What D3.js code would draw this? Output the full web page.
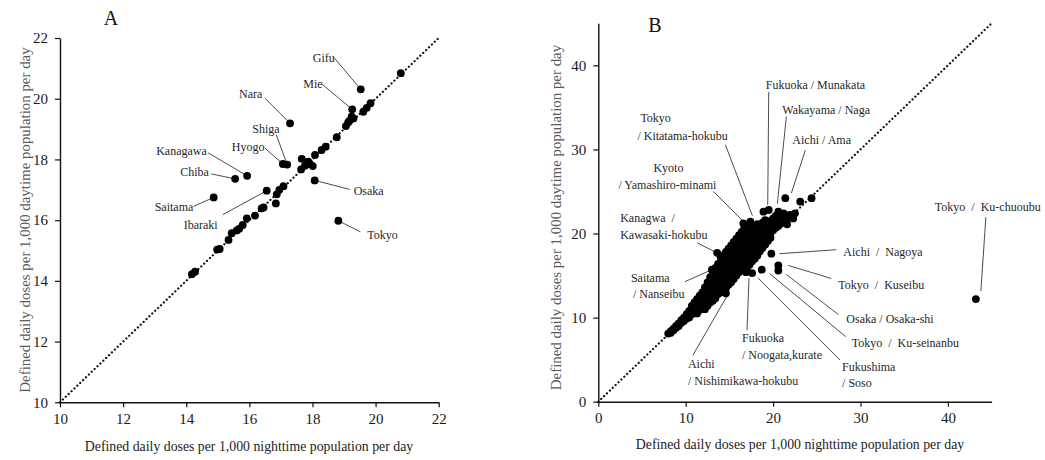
<!DOCTYPE html>
<html>
<head>
<meta charset="utf-8">
<script src="https://cdn.jsdelivr.net/npm/d3@7"></script>
<style>
  body { margin: 0; background: #fff; }
  svg { display: block; font-family: "Liberation Serif", "Times New Roman", serif; }
  .lbl { white-space: pre; }
</style>
</head>
<body>
<svg id="chart" width="1045" height="460"></svg>
<script>
// ---------- Panel A: prefectures ----------
const prefNamesA   = ["Gifu", "Mie", "Nara", "Shiga", "Hyogo", "Kanagawa", "Chiba", "Saitama", "Ibaraki", "Osaka", "Tokyo"];
const prefNightA   = [19.53, 19.26, 17.29, 17.20, 17.06, 15.93, 15.55, 14.87, 16.55, 18.07, 18.82];
const prefDayA     = [20.31, 19.65, 19.19, 17.83, 17.85, 17.46, 17.36, 16.75, 16.97, 17.31, 15.98];
const otherNightA  = [20.80, 19.84, 19.72, 19.61, 19.24, 19.13, 19.06, 18.77, 18.42, 18.29, 18.08, 17.66,
                      17.87, 18.01, 17.76, 17.64, 17.08, 16.95, 16.87, 16.84, 16.39, 16.18, 15.92, 15.79,
                      15.60, 15.44, 15.34, 15.06, 14.98, 14.28, 14.18, 15.68, 17.92, 19.30, 19.18, 16.45];
const otherDayA    = [20.84, 19.85, 19.70, 19.57, 19.41, 19.22, 19.10, 18.73, 18.42, 18.31, 18.15, 18.02,
                      17.93, 17.78, 17.79, 17.67, 17.12, 17.00, 16.85, 16.55, 16.39, 16.15, 16.06, 15.84,
                      15.66, 15.57, 15.35, 15.05, 15.03, 14.30, 14.22, 15.72, 17.85, 19.35, 19.28, 16.42];
const ticksA = [10, 12, 14, 16, 18, 20, 22];

// ---------- Panel B: secondary medical areas ----------
const areaNamesB = ["Fukuoka / Munakata", "Wakayama / Naga", "Aichi / Ama", "Tokyo / Kitatama-hokubu",
                    "Kyoto / Yamashiro-minami", "Kanagwa / Kawasaki-hokubu", "Saitama / Nanseibu",
                    "Aichi / Nishimikawa-hokubu", "Fukuoka / Noogata,kurate", "Fukushima / Soso",
                    "Tokyo / Ku-seinanbu", "Osaka / Osaka-shi", "Tokyo / Kuseibu", "Aichi / Nagoya",
                    "Tokyo / Ku-chuoubu"];
const areaNightB = [19.5, 20.6, 21.4, 17.4, 16.6, 13.6, 13.0, 14.6, 16.9, 17.6, 18.7, 20.6, 20.6, 19.8, 43.2];
const areaDayB   = [22.8, 22.6, 24.2, 21.4, 21.2, 17.7, 15.7, 12.9, 15.4, 15.3, 15.7, 15.6, 16.2, 17.6, 12.2];
// remaining areas as [nighttime, daytime]
const otherAreasB = [
  [8.0,8.1],[8.3,8.4],[8.3,8.2],[8.6,8.7],[8.6,8.5],[8.9,9.0],[8.9,8.8],[9.2,9.3],[9.2,9.0],[9.5,9.7],
  [9.5,9.4],[9.8,10.0],[9.8,9.6],[10.1,10.4],[10.1,9.9],[10.4,10.8],[10.4,10.3],[10.4,10.0],[10.7,11.4],
  [10.7,10.9],[10.7,10.4],[11.0,11.8],[11.0,11.2],[11.0,10.6],[11.3,12.2],[11.3,11.6],[11.3,11.0],[11.3,10.5],
  [11.6,12.6],[11.6,12.0],[11.6,11.4],[11.6,10.9],[11.9,13.0],[11.9,12.4],[11.9,11.8],[11.9,11.2],
  [12.2,13.6],[12.2,13.0],[12.2,12.3],[12.2,11.6],[12.2,11.0],[12.5,14.2],[12.5,13.5],[12.5,12.8],[12.5,12.1],
  [12.5,11.4],[12.8,14.8],[12.8,14.0],[12.8,13.3],[12.8,12.6],[12.8,11.8],[13.1,15.5],[13.1,14.8],[13.1,14.1],
  [13.1,13.4],[13.1,12.6],[13.1,12.0],[13.4,15.9],[13.4,15.2],[13.4,14.5],[13.4,13.8],[13.4,13.0],[13.4,12.3],
  [13.7,16.4],[13.7,15.8],[13.7,15.1],[13.7,14.4],[13.7,13.6],[13.7,12.8],[14.0,17.2],[14.0,16.6],[14.0,15.9],
  [14.0,15.2],[14.0,14.5],[14.0,13.7],[14.0,13.0],[14.3,17.4],[14.3,16.8],[14.3,16.1],[14.3,15.4],[14.3,14.7],
  [14.3,13.9],[14.3,13.2],[14.6,17.8],[14.6,17.1],[14.6,16.4],[14.6,15.7],[14.6,15.0],[14.6,14.2],[14.6,13.5],
  [14.9,18.2],[14.9,17.5],[14.9,16.8],[14.9,16.1],[14.9,15.4],[14.9,14.6],[14.9,13.9],[15.2,18.6],[15.2,17.9],
  [15.2,17.2],[15.2,16.5],[15.2,15.8],[15.2,15.0],[15.2,14.2],[15.5,19.0],[15.5,18.3],[15.5,17.6],[15.5,16.9],
  [15.5,16.2],[15.5,15.4],[15.5,14.6],[15.8,19.4],[15.8,18.7],[15.8,18.0],[15.8,17.3],[15.8,16.6],[15.8,15.8],
  [15.8,15.0],[16.1,19.8],[16.1,19.1],[16.1,18.4],[16.1,17.7],[16.1,17.0],[16.1,16.2],[16.1,15.4],[16.4,20.2],
  [16.4,19.5],[16.4,18.8],[16.4,18.1],[16.4,17.3],[16.4,16.6],[16.4,15.8],[16.7,20.6],[16.7,19.9],[16.7,19.2],
  [16.7,18.5],[16.7,17.7],[16.7,17.0],[16.7,16.2],[17.0,20.4],[17.0,19.6],[17.0,18.9],[17.0,18.1],[17.0,17.4],
  [17.0,16.6],[17.0,15.9],[17.3,20.8],[17.3,20.0],[17.3,19.3],[17.3,18.5],[17.3,17.8],[17.3,17.0],[17.3,16.3],
  [17.6,20.4],[17.6,19.7],[17.6,18.9],[17.6,18.2],[17.6,17.4],[17.6,16.7],[17.9,20.8],[17.9,20.1],[17.9,19.3],
  [17.9,18.6],[17.9,17.8],[17.9,17.0],[18.2,21.1],[18.2,20.4],[18.2,19.7],[18.2,18.9],[18.2,18.2],[18.2,17.4],
  [18.5,21.0],[18.5,20.2],[18.5,19.5],[18.5,18.7],[18.5,17.9],[18.8,21.3],[18.8,20.6],[18.8,19.8],[18.8,19.1],
  [18.8,18.3],[19.1,21.6],[19.1,20.9],[19.1,20.2],[19.1,19.4],[19.1,18.7],[19.4,21.2],[19.4,20.5],[19.4,19.8],
  [19.4,19.1],[19.7,21.5],[19.7,20.8],[19.7,20.1],[19.7,19.5],[20.0,21.8],[20.0,21.1],[20.0,20.4],[20.3,22.1],
  [20.3,21.4],[20.3,20.7],[20.6,21.6],[20.6,20.9],[20.9,21.9],[20.9,21.2],[21.2,22.4],[21.2,21.5],[21.6,21.8],
  [21.6,21.1],[21.9,22.2],[22.3,21.8],[22.5,22.4],[23.1,23.8],[24.4,24.2],[18.9,22.6],[18.2,20.8]
];
const ticksB = [0, 10, 20, 30, 40];

// ---------- Annotation layout (pixel offsets from each labelled point) ----------
// lines: [text, dx, dy]; leader: [x1, y1, x2, y2]
const layoutA = {
  "Gifu":     { lines: [["Gifu", -48, -31]],     leader: [-27, -32, 0, 0] },
  "Mie":      { lines: [["Mie", -49, -25]],      leader: [-30, -25, 0, 0] },
  "Nara":     { lines: [["Nara", -51, -29]],     leader: [-25, -25, 0, 0] },
  "Shiga":    { lines: [["Shiga", -35, -36]],    leader: [-11, -30, 0, 0] },
  "Hyogo":    { lines: [["Hyogo", -51, -17]],    leader: [-18, -16, 0, 0] },
  "Kanagawa": { lines: [["Kanagawa", -91, -25]], leader: [-39, -23, 0, 0] },
  "Chiba":    { lines: [["Chiba", -55, -7]],     leader: [-24, -5, 0, 0] },
  "Saitama":  { lines: [["Saitama", -59, 10]],   leader: [-20, 9, 0, 0] },
  "Ibaraki":  { lines: [["Ibaraki", -83, 34]],   leader: [-44, 24, 0, 0] },
  "Osaka":    { lines: [["Osaka", 39, 11]],      leader: [0, 0, 35, 9] },
  "Tokyo":    { lines: [["Tokyo", 29, 14]],      leader: [0, 0, 22, 11] }
};
const layoutB = {
  "Fukuoka / Munakata":        { lines: [["Fukuoka / Munakata", -3, -125]], leader: [0, -118, -1, -5] },
  "Wakayama / Naga":           { lines: [["Wakayama / Naga", 4, -102]], leader: [8, -95, -1, -8] },
  "Aichi / Ama":               { lines: [["Aichi / Ama", 7, -58]], leader: [20, -48, 6, -5] },
  "Tokyo / Kitatama-hokubu":   { lines: [["Tokyo", -110, -104], ["/ Kitatama-hokubu", -113, -86]], leader: [-25, -77, 2, -6] },
  "Kyoto / Yamashiro-minami":  { lines: [["Kyoto", -90, -55], ["/ Yamashiro-minami", -125, -38]], leader: [-30, -32, 0, -2] },
  "Kanagwa / Kawasaki-hokubu": { lines: [["Kanagwa  /", -97, -35], ["Kawasaki-hokubu", -97, -18]], leader: [-20, -10, 0, 0] },
  "Saitama / Nanseibu":        { lines: [["Saitama", -81, 8], ["/ Nanseibu", -79, 24]], leader: [-27, 12, 0, 0] },
  "Aichi / Nishimikawa-hokubu":{ lines: [["Aichi", -38, 71], ["/ Nishimikawa-hokubu", -38, 88]], leader: [-33, 62, 1, 3] },
  "Fukuoka / Noogata,kurate":  { lines: [["Fukuoka", -4, 66], ["/ Noogata,kurate", -4, 83]], leader: [1, 58, 3, 6] },
  "Fukushima / Soso":          { lines: [["Fukushima", 90, 94], ["/ Soso", 90, 110]], leader: [88, 87, 6, 5] },
  "Tokyo / Ku-seinanbu":       { lines: [["Tokyo  /  Ku-seinanbu", 90, 73]], leader: [84, 67, 8, 4] },
  "Osaka / Osaka-shi":         { lines: [["Osaka / Osaka-shi", 68, 48]], leader: [60, 44, 8, 4] },
  "Tokyo / Kuseibu":           { lines: [["Tokyo  /  Kuseibu", 60, 20]], leader: [53, 13, 10, 0] },
  "Aichi / Nagoya":            { lines: [["Aichi  /  Nagoya", 72, -2]], leader: [65, -4, 8, 0] },
  "Tokyo / Ku-chuoubu":        { lines: [["Tokyo  /  Ku-chuoubu", -41, -92]], leader: [10, -82, 5, -8] }
};

const xTitle = "Defined daily doses per 1,000 nighttime population per day";
const yTitle = "Defined daily doses per 1,000 daytime population per day";

const svg = d3.select("#chart");
const DOT_R = 3.9;

function drawPanel(o) {
  const x = d3.scaleLinear().domain(o.domain).range(o.xRange);
  const y = d3.scaleLinear().domain(o.domain).range(o.yRange);
  const g = svg.append("g");

  // identity line
  g.append("line")
    .attr("x1", x(o.domain[0])).attr("y1", y(o.domain[0]))
    .attr("x2", x(o.domain[1])).attr("y2", y(o.domain[1]))
    .attr("stroke", "#111").attr("stroke-width", 2.2)
    .attr("stroke-linecap", "round").attr("stroke-dasharray", "0.1,3.9");

  // axes
  const xAxis = g.append("g")
    .attr("transform", `translate(0,${o.yRange[0]})`)
    .call(d3.axisBottom(x).tickValues(o.ticks).tickSize(5).tickSizeOuter(0).tickPadding(6).tickFormat(d3.format("d")));
  const yAxis = g.append("g")
    .attr("transform", `translate(${o.xRange[0]},0)`)
    .call(d3.axisLeft(y).tickValues(o.ticks).tickSize(5).tickSizeOuter(0).tickPadding(7).tickFormat(d3.format("d")));
  [xAxis, yAxis].forEach(a => {
    a.select(".domain").attr("stroke", "#111").attr("stroke-width", 1.4);
    a.selectAll(".tick line").attr("stroke", "#111").attr("stroke-width", 1.2);
    a.selectAll(".tick text").attr("fill", "#1a1a1a").style("font-size", "15px")
      .style("font-family", "'Liberation Serif', serif");
  });

  // titles
  g.append("text")
    .attr("x", o.xTitlePos[0]).attr("y", o.xTitlePos[1])
    .attr("text-anchor", "middle").attr("dominant-baseline", "central")
    .attr("fill", "#222").style("font-size", "13.8px").text(xTitle);
  g.append("text")
    .attr("transform", `translate(${o.yTitlePos[0]},${o.yTitlePos[1]}) rotate(-90)`)
    .attr("text-anchor", "middle").attr("dominant-baseline", "central")
    .attr("fill", "#5a5a5a").style("font-size", "14.9px").text(yTitle);
  g.append("text")
    .attr("x", o.letterPos[0]).attr("y", o.letterPos[1])
    .attr("text-anchor", "middle").attr("dominant-baseline", "central")
    .attr("fill", "#111").style("font-size", "20px").text(o.letter);

  // leaders
  const labelled = o.names.map((n, i) => ({ name: n, nx: o.night[i], dy: o.day[i], lay: o.layout[n] }));
  labelled.forEach(d => {
    const px = x(d.nx), py = y(d.dy), L = d.lay.leader;
    g.append("line")
      .attr("x1", px + L[0]).attr("y1", py + L[1])
      .attr("x2", px + L[2]).attr("y2", py + L[3])
      .attr("stroke", "#4d4d4d").attr("stroke-width", 1);
  });

  // dots
  g.append("g").selectAll("circle").data(o.others).join("circle")
    .attr("cx", d => x(d[0])).attr("cy", d => y(d[1])).attr("r", DOT_R).attr("fill", "#000");
  g.append("g").selectAll("circle").data(labelled).join("circle")
    .attr("cx", d => x(d.nx)).attr("cy", d => y(d.dy)).attr("r", DOT_R).attr("fill", "#000");

  // label text
  labelled.forEach(d => {
    const px = x(d.nx), py = y(d.dy);
    d.lay.lines.forEach(([t, dx, dy]) => {
      g.append("text").attr("class", "lbl")
        .attr("x", px + dx).attr("y", py + dy)
        .attr("dominant-baseline", "central")
        .attr("fill", "#1f1f1f").style("font-size", "12px").text(t);
    });
  });
}

drawPanel({
  domain: [10, 22], xRange: [60, 438.7], yRange: [402.3, 38], ticks: ticksA,
  names: prefNamesA, night: prefNightA, day: prefDayA, layout: layoutA,
  others: otherNightA.map((v, i) => [v, otherDayA[i]]),
  xTitlePos: [249, 446.5], yTitlePos: [25, 220], letterPos: [111, 18], letter: "A"
});

drawPanel({
  domain: [0, 45], xRange: [598.3, 991.6], yRange: [401.7, 23.3], ticks: ticksB,
  names: areaNamesB, night: areaNightB, day: areaDayB, layout: layoutB,
  others: otherAreasB,
  xTitlePos: [800, 444], yTitlePos: [556, 217.5], letterPos: [655, 25], letter: "B"
});
</script>
</body>
</html>
